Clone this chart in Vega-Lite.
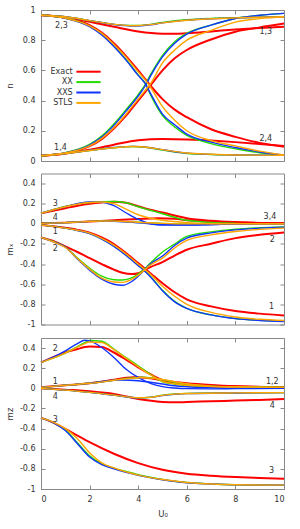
{
  "$schema": "https://vega.github.io/schema/vega-lite/v6.json",
  "padding": {"left": 4, "top": 5, "right": 5, "bottom": 5},
  "spacing": 6.5,
  "datasets": {
    "n": [
      {"m": "Exact", "s": 1, "u": [0,1,2,2.5,3,3.5,4,4.3,4.5,5,5.5,6,7,8,9,10], "v": [0.035,0.05,0.098,0.145,0.215,0.3,0.4,0.46,0.5,0.6,0.68,0.735,0.805,0.856,0.885,0.91]},
      {"m": "Exact", "s": 2, "u": [0,1,2,2.5,3,3.5,4,4.3,4.5,5,5.5,6,7,8,9,10], "v": [0.965,0.948,0.9,0.85,0.78,0.695,0.6,0.54,0.5,0.41,0.34,0.29,0.21,0.16,0.12,0.095]},
      {"m": "Exact", "s": 3, "u": [0,1,2,3,4,5,5.5,6,7,8,9,10], "v": [0.967,0.952,0.922,0.889,0.858,0.843,0.842,0.846,0.858,0.871,0.881,0.889]},
      {"m": "Exact", "s": 4, "u": [0,1,2,3,4,5,6,7,8,9,10], "v": [0.035,0.05,0.075,0.108,0.137,0.145,0.143,0.135,0.125,0.113,0.1]},
      {"m": "XX", "s": 1, "u": [0,1,2,2.5,3,3.5,4,4.3,4.5,5,5.5,6,7,8,9,10], "v": [0.035,0.055,0.11,0.165,0.245,0.34,0.44,0.51,0.57,0.7,0.79,0.845,0.9,0.944,0.965,0.978]},
      {"m": "XX", "s": 2, "u": [0,1,2,2.5,3,3.5,4,4.3,4.5,5,5.5,6,7,8,9,10], "v": [0.965,0.946,0.893,0.84,0.762,0.672,0.57,0.51,0.44,0.3,0.225,0.17,0.115,0.08,0.055,0.037]},
      {"m": "XX", "s": 3, "u": [0,1,2,3,3.8,4.5,5,6,7,8,10], "v": [0.967,0.955,0.93,0.905,0.897,0.905,0.918,0.935,0.944,0.949,0.955]},
      {"m": "XX", "s": 4, "u": [0,1,2,3,3.8,4.5,5,6,7,8,10], "v": [0.035,0.05,0.07,0.088,0.096,0.086,0.072,0.05,0.043,0.04,0.037]},
      {"m": "XXS", "s": 1, "u": [0,1,2,2.5,3,3.5,4,4.3,4.5,5,5.5,6,7,8,9,10], "v": [0.035,0.054,0.106,0.158,0.236,0.33,0.43,0.5,0.56,0.69,0.78,0.84,0.9,0.944,0.965,0.978]},
      {"m": "XXS", "s": 2, "u": [0,1,2,2.5,3,3.5,4,4.3,4.5,5,5.5,6,7,8,9,10], "v": [0.965,0.945,0.89,0.835,0.758,0.668,0.567,0.51,0.45,0.31,0.24,0.178,0.125,0.089,0.06,0.04]},
      {"m": "XXS", "s": 3, "u": [0,1,2,3,3.8,4.5,5,6,7,8,10], "v": [0.967,0.955,0.93,0.904,0.894,0.902,0.915,0.933,0.942,0.948,0.955]},
      {"m": "XXS", "s": 4, "u": [0,1,2,3,3.8,4.5,5,6,7,8,10], "v": [0.035,0.05,0.07,0.089,0.097,0.088,0.075,0.052,0.044,0.04,0.037]},
      {"m": "STLS", "s": 1, "u": [0,1,2,2.5,3,3.5,4,4.3,4.5,5,5.5,6,7,8,9,10], "v": [0.035,0.053,0.1,0.15,0.22,0.31,0.41,0.47,0.51,0.65,0.735,0.8,0.865,0.92,0.943,0.955]},
      {"m": "STLS", "s": 2, "u": [0,1,2,2.5,3,3.5,4,4.3,4.5,5,5.5,6,7,8,9,10], "v": [0.965,0.946,0.895,0.845,0.772,0.688,0.59,0.535,0.49,0.36,0.27,0.2,0.135,0.1,0.065,0.04]},
      {"m": "STLS", "s": 3, "u": [0,1,2,3,3.8,4.5,5,6,7,8,10], "v": [0.967,0.955,0.93,0.905,0.896,0.903,0.915,0.932,0.942,0.948,0.955]},
      {"m": "STLS", "s": 4, "u": [0,1,2,3,3.8,4.5,5,6,7,8,10], "v": [0.035,0.05,0.07,0.088,0.096,0.088,0.075,0.053,0.045,0.04,0.037]}
    ],
    "mx": [
      {"m": "Exact", "s": 3, "u": [0,0.5,1,1.5,2,2.5,3,3.5,4,4.5,5,6,7,8,10], "v": [0.105,0.13,0.155,0.18,0.2,0.213,0.22,0.21,0.175,0.14,0.112,0.056,0.03,0.017,0.007]},
      {"m": "Exact", "s": 4, "u": [0,1,2,3,4,4.8,5.5,6,7,8,10], "v": [0.005,0.012,0.022,0.035,0.048,0.056,0.05,0.035,0.022,0.013,0.005]},
      {"m": "Exact", "s": 1, "u": [0,0.5,1,1.5,2,2.5,3,3.5,4,4.25,4.5,5,5.5,6,7,8,9,10], "v": [-0.012,-0.024,-0.04,-0.06,-0.088,-0.135,-0.2,-0.29,-0.39,-0.44,-0.49,-0.59,-0.68,-0.75,-0.82,-0.866,-0.892,-0.91]},
      {"m": "Exact", "s": 2, "u": [0,0.5,1,1.5,2,2.5,3,3.35,3.75,4,4.25,4.5,5,5.5,6,7,8,9,10], "v": [-0.135,-0.17,-0.224,-0.28,-0.34,-0.4,-0.455,-0.485,-0.498,-0.49,-0.46,-0.43,-0.38,-0.315,-0.257,-0.198,-0.142,-0.109,-0.086]},
      {"m": "XX", "s": 3, "u": [0,0.5,1,1.5,2,2.5,3,3.5,4,4.5,5,6,7,8,10], "v": [0.105,0.14,0.172,0.198,0.212,0.22,0.222,0.21,0.17,0.135,0.1,0.035,0.013,0.005,0]},
      {"m": "XX", "s": 4, "u": [0,1,2,2.5,3,4,5,6,8,10], "v": [0.005,0.012,0.024,0.028,0.027,0.015,0.005,0.0,0,0]},
      {"m": "XX", "s": 1, "u": [0,0.5,1,1.5,2,2.5,3,3.5,4,4.25,4.5,5,5.5,6,7,8,9,10], "v": [-0.012,-0.025,-0.043,-0.065,-0.095,-0.15,-0.22,-0.31,-0.41,-0.46,-0.52,-0.66,-0.77,-0.84,-0.905,-0.94,-0.958,-0.968]},
      {"m": "XX", "s": 2, "u": [0,0.5,1,1.5,2,2.5,3,3.35,3.75,4,4.25,4.5,5,5.5,6,7,8,9,10], "v": [-0.135,-0.175,-0.23,-0.34,-0.44,-0.52,-0.555,-0.558,-0.535,-0.5,-0.45,-0.39,-0.28,-0.2,-0.125,-0.08,-0.053,-0.038,-0.03]},
      {"m": "XXS", "s": 3, "u": [0,0.5,1,1.5,2,2.5,3,3.5,4,4.5,5,6,7,8,10], "v": [0.105,0.14,0.17,0.2,0.218,0.215,0.18,0.11,0.045,0.0,-0.012,-0.012,-0.006,-0.003,0]},
      {"m": "XXS", "s": 4, "u": [0,1,2,2.5,3,4,5,6,8,10], "v": [0.005,0.012,0.024,0.027,0.024,0.01,-0.008,-0.01,-0.003,0]},
      {"m": "XXS", "s": 1, "u": [0,0.5,1,1.5,2,2.5,3,3.5,4,4.25,4.5,5,5.5,6,7,8,9,10], "v": [-0.012,-0.025,-0.043,-0.066,-0.098,-0.153,-0.225,-0.315,-0.415,-0.465,-0.525,-0.665,-0.775,-0.84,-0.905,-0.942,-0.96,-0.97]},
      {"m": "XXS", "s": 2, "u": [0,0.5,1,1.5,2,2.5,3,3.35,3.75,4,4.25,4.5,5,5.5,6,7,8,9,10], "v": [-0.135,-0.178,-0.23,-0.35,-0.46,-0.55,-0.6,-0.61,-0.57,-0.52,-0.46,-0.4,-0.32,-0.215,-0.142,-0.09,-0.06,-0.043,-0.033]},
      {"m": "STLS", "s": 3, "u": [0,0.5,1,1.5,2,2.5,3,3.5,4,4.5,5,6,7,8,10], "v": [0.105,0.14,0.17,0.195,0.212,0.217,0.2,0.145,0.09,0.055,0.035,0.012,0.004,0.002,0]},
      {"m": "STLS", "s": 4, "u": [0,1,2,2.5,3,4,5,6,8,10], "v": [0.005,0.012,0.024,0.028,0.027,0.015,0.005,0.0,0,0]},
      {"m": "STLS", "s": 1, "u": [0,0.5,1,1.5,2,2.5,3,3.5,4,4.25,4.5,5,5.5,6,7,8,9,10], "v": [-0.012,-0.025,-0.043,-0.064,-0.093,-0.145,-0.212,-0.3,-0.4,-0.45,-0.5,-0.62,-0.72,-0.8,-0.88,-0.925,-0.948,-0.96]},
      {"m": "STLS", "s": 2, "u": [0,0.5,1,1.5,2,2.5,3,3.35,3.75,4,4.25,4.5,5,5.5,6,7,8,9,10], "v": [-0.135,-0.178,-0.235,-0.345,-0.45,-0.54,-0.578,-0.582,-0.55,-0.51,-0.46,-0.41,-0.34,-0.24,-0.165,-0.11,-0.076,-0.055,-0.043]}
    ],
    "mz": [
      {"m": "Exact", "s": 2, "u": [0,0.5,1,1.5,1.8,2,2.5,3,3.5,4,4.5,5,5.5,6,7,8,10], "v": [0.257,0.31,0.356,0.39,0.41,0.416,0.41,0.356,0.285,0.208,0.14,0.08,0.05,0.036,0.025,0.02,0.01]},
      {"m": "Exact", "s": 1, "u": [0,1,2,3,3.5,3.8,4.5,5,6,7,8,10], "v": [0.01,0.03,0.05,0.085,0.104,0.11,0.1,0.08,0.05,0.032,0.02,0.01]},
      {"m": "Exact", "s": 4, "u": [0,1,2,3,4,5,5.5,6,7,8,9,10], "v": [0,-0.014,-0.03,-0.056,-0.106,-0.135,-0.139,-0.136,-0.128,-0.122,-0.115,-0.106]},
      {"m": "Exact", "s": 3, "u": [0,0.5,1,1.5,2,3,4,5,6,7,8,9,10], "v": [-0.294,-0.34,-0.403,-0.47,-0.535,-0.65,-0.743,-0.809,-0.848,-0.868,-0.881,-0.89,-0.898]},
      {"m": "XX", "s": 2, "u": [0,0.5,1,1.5,1.8,2,2.5,3,3.5,4,4.5,5,5.5,6,7,8,10], "v": [0.257,0.3,0.35,0.415,0.455,0.475,0.468,0.39,0.305,0.224,0.14,0.065,0.042,0.026,0.016,0.012,0.01]},
      {"m": "XX", "s": 1, "u": [0,1,2,3,3.5,4,4.2,4.5,5,5.5,6,7,8,10], "v": [0.01,0.03,0.05,0.08,0.097,0.108,0.11,0.105,0.085,0.06,0.04,0.02,0.013,0.01]},
      {"m": "XX", "s": 4, "u": [0,1,2,3,4,4.5,5,5.5,6,8,10], "v": [0,-0.018,-0.04,-0.068,-0.093,-0.088,-0.068,-0.056,-0.05,-0.045,-0.043]},
      {"m": "XX", "s": 3, "u": [0,0.5,1,1.5,2,2.5,3,3.5,4,5,6,7,8,10], "v": [-0.294,-0.338,-0.412,-0.54,-0.67,-0.75,-0.792,-0.826,-0.858,-0.905,-0.935,-0.95,-0.958,-0.962]},
      {"m": "XXS", "s": 2, "u": [0,0.5,1,1.5,1.8,2,2.5,3,3.5,4,4.5,5,5.5,6,7,8,10], "v": [0.257,0.31,0.373,0.445,0.478,0.472,0.406,0.307,0.19,0.109,0.05,0.017,0.003,-0.003,-0.005,-0.003,0]},
      {"m": "XXS", "s": 1, "u": [0,1,2,3,3.3,4,4.5,5,5.5,6,7,8,10], "v": [0.01,0.03,0.05,0.08,0.083,0.076,0.06,0.043,0.025,0.016,0.008,0.005,0.003]},
      {"m": "XXS", "s": 4, "u": [0,1,2,3,4,4.5,5,5.5,6,8,10], "v": [0,-0.018,-0.04,-0.068,-0.094,-0.09,-0.072,-0.06,-0.053,-0.046,-0.043]},
      {"m": "XXS", "s": 3, "u": [0,0.5,1,1.5,2,2.5,3,3.5,4,5,6,7,8,10], "v": [-0.294,-0.34,-0.419,-0.55,-0.683,-0.759,-0.8,-0.835,-0.865,-0.908,-0.938,-0.95,-0.958,-0.962]},
      {"m": "STLS", "s": 2, "u": [0,0.5,1,1.5,1.8,2,2.5,3,3.5,4,4.5,5,5.5,6,7,8,10], "v": [0.257,0.3,0.35,0.41,0.445,0.46,0.455,0.385,0.3,0.215,0.135,0.07,0.045,0.03,0.018,0.013,0.01]},
      {"m": "STLS", "s": 1, "u": [0,1,2,3,3.5,4,4.2,4.5,5,5.5,6,7,8,10], "v": [0.01,0.03,0.05,0.08,0.095,0.105,0.107,0.103,0.088,0.065,0.045,0.022,0.014,0.01]},
      {"m": "STLS", "s": 4, "u": [0,1,2,3,4,4.5,5,5.5,6,8,10], "v": [0,-0.018,-0.04,-0.068,-0.093,-0.09,-0.07,-0.058,-0.051,-0.045,-0.043]},
      {"m": "STLS", "s": 3, "u": [0,0.5,1,1.5,2,2.5,3,3.5,4,5,6,7,8,10], "v": [-0.294,-0.335,-0.4,-0.5,-0.64,-0.74,-0.79,-0.83,-0.862,-0.906,-0.935,-0.95,-0.958,-0.962]}
    ]
  },
  "vconcat": [
    {
      "width": 243, "height": 151,
      "layer": [
        {
          "data": {"name": "n"},
          "transform": [{"flatten": ["u", "v"]}],
          "mark": {"type": "line", "interpolate": "monotone"},
          "encoding": {
            "x": {"field": "u", "type": "quantitative", "scale": {"domain": [0, 10], "nice": false}, "axis": {"values": [0,2,4,6,8,10], "labels": false, "title": null}},
            "y": {"field": "v", "type": "quantitative", "scale": {"domain": [0, 1], "nice": false}, "axis": {"values": [0,0.2,0.4,0.6,0.8,1], "title": "n", "titleX": -27, "titleY": 75.5}},
            "color": {"field": "m", "type": "nominal", "scale": {"domain": ["Exact","XX","XXS","STLS"], "range": ["#ff0000","#22dd00","#1133ff","#ffa500"]},
              "legend": {"orient": "none", "legendX": 42, "legendY": 56.2, "title": null, "labelAlign": "right", "labelOffset": -21.3, "symbolType": "M-2.7,0H2.7", "symbolSize": 81, "symbolStrokeWidth": 2, "rowPadding": 0.4, "padding": 0, "labelFontSize": 8, "labelFont": "DejaVu Sans", "labelColor": "#333"}},
            "detail": {"field": "s"},
            "strokeWidth": {"condition": {"test": "datum.m === 'Exact'", "value": 2}, "value": 1.4}
          }
        },
        {
          "data": {"values": [
            {"t": "2,3", "u": 0.84, "v": 0.896},
            {"t": "1,4", "u": 0.8, "v": 0.089},
            {"t": "1,3", "u": 9.25, "v": 0.851},
            {"t": "2,4", "u": 9.25, "v": 0.144}
          ]},
          "mark": {"type": "text"},
          "encoding": {
            "x": {"field": "u", "type": "quantitative", "axis": {"orient": "top", "values": [0,2,4,6,8,10], "labels": false, "title": null}},
            "y": {"field": "v", "type": "quantitative", "axis": {"orient": "right", "values": [0,0.2,0.4,0.6,0.8,1], "labels": false, "title": null}},
            "text": {"field": "t"}
          }
        }
      ],
      "resolve": {"axis": {"x": "independent", "y": "independent"}}
    },
    {
      "width": 243, "height": 151,
      "layer": [
        {
          "data": {"name": "mx"},
          "transform": [{"flatten": ["u", "v"]}],
          "mark": {"type": "line", "interpolate": "monotone"},
          "encoding": {
            "x": {"field": "u", "type": "quantitative", "scale": {"domain": [0, 10], "nice": false}, "axis": {"values": [0,2,4,6,8,10], "labels": false, "title": null}},
            "y": {"field": "v", "type": "quantitative", "scale": {"domain": [-1, 0.5], "nice": false}, "axis": {"values": [-1,-0.8,-0.6,-0.4,-0.2,0,0.2,0.4], "title": "mₓ", "titleX": -27, "titleY": 75.5}},
            "color": {"field": "m", "type": "nominal", "scale": {"domain": ["Exact","XX","XXS","STLS"], "range": ["#ff0000","#22dd00","#1133ff","#ffa500"]}, "legend": null},
            "detail": {"field": "s"},
            "strokeWidth": {"condition": {"test": "datum.m === 'Exact'", "value": 2}, "value": 1.4}
          }
        },
        {
          "data": {"values": [
            {"t": "3", "u": 0.59, "v": 0.198},
            {"t": "4", "u": 0.59, "v": 0.056},
            {"t": "1", "u": 0.59, "v": -0.083},
            {"t": "2", "u": 0.59, "v": -0.251},
            {"t": "3,4", "u": 9.42, "v": 0.063},
            {"t": "2", "u": 9.52, "v": -0.158},
            {"t": "1", "u": 9.49, "v": -0.825}
          ]},
          "mark": {"type": "text"},
          "encoding": {
            "x": {"field": "u", "type": "quantitative", "axis": {"orient": "top", "values": [0,2,4,6,8,10], "labels": false, "title": null}},
            "y": {"field": "v", "type": "quantitative", "axis": {"orient": "right", "values": [-1,-0.8,-0.6,-0.4,-0.2,0,0.2,0.4], "labels": false, "title": null}},
            "text": {"field": "t"}
          }
        }
      ],
      "resolve": {"axis": {"x": "independent", "y": "independent"}}
    },
    {
      "width": 243, "height": 151,
      "layer": [
        {
          "data": {"name": "mz"},
          "transform": [{"flatten": ["u", "v"]}],
          "mark": {"type": "line", "interpolate": "monotone"},
          "encoding": {
            "x": {"field": "u", "type": "quantitative", "scale": {"domain": [0, 10], "nice": false}, "axis": {"values": [0,2,4,6,8,10], "title": "U₀", "titlePadding": 6}},
            "y": {"field": "v", "type": "quantitative", "scale": {"domain": [-1, 0.5], "nice": false}, "axis": {"values": [-1,-0.8,-0.6,-0.4,-0.2,0,0.2,0.4], "title": "mz", "titleX": -27, "titleY": 75.5}},
            "color": {"field": "m", "type": "nominal", "scale": {"domain": ["Exact","XX","XXS","STLS"], "range": ["#ff0000","#22dd00","#1133ff","#ffa500"]}, "legend": null},
            "detail": {"field": "s"},
            "strokeWidth": {"condition": {"test": "datum.m === 'Exact'", "value": 2}, "value": 1.4}
          }
        },
        {
          "data": {"values": [
            {"t": "2", "u": 0.59, "v": 0.389},
            {"t": "1", "u": 0.59, "v": 0.059},
            {"t": "4", "u": 0.59, "v": -0.089},
            {"t": "3", "u": 0.59, "v": -0.31},
            {"t": "1,2", "u": 9.52, "v": 0.059},
            {"t": "4", "u": 9.52, "v": -0.18},
            {"t": "3", "u": 9.49, "v": -0.825}
          ]},
          "mark": {"type": "text"},
          "encoding": {
            "x": {"field": "u", "type": "quantitative", "axis": {"orient": "top", "values": [0,2,4,6,8,10], "labels": false, "title": null}},
            "y": {"field": "v", "type": "quantitative", "axis": {"orient": "right", "values": [-1,-0.8,-0.6,-0.4,-0.2,0,0.2,0.4], "labels": false, "title": null}},
            "text": {"field": "t"}
          }
        }
      ],
      "resolve": {"axis": {"x": "independent", "y": "independent"}}
    }
  ],
  "resolve": {"scale": {"color": "independent"}, "legend": {"color": "independent"}},
  "config": {
    "view": {"stroke": "#888888", "strokeWidth": 1},
    "axis": {
      "domain": false, "grid": false,
      "tickSize": -4, "tickColor": "#888888", "tickWidth": 1,
      "labelPadding": 10, "labelFont": "DejaVu Sans", "labelFontSize": 8, "labelColor": "#333333",
      "labelExpr": "'' + datum.value",
      "titleFont": "DejaVu Sans", "titleFontSize": 8.5, "titleFontWeight": "normal", "titleColor": "#333333", "titlePadding": 4
    },
    "text": {"font": "DejaVu Sans", "fontSize": 8, "fill": "#333333", "align": "center", "baseline": "middle"}
  }
}
